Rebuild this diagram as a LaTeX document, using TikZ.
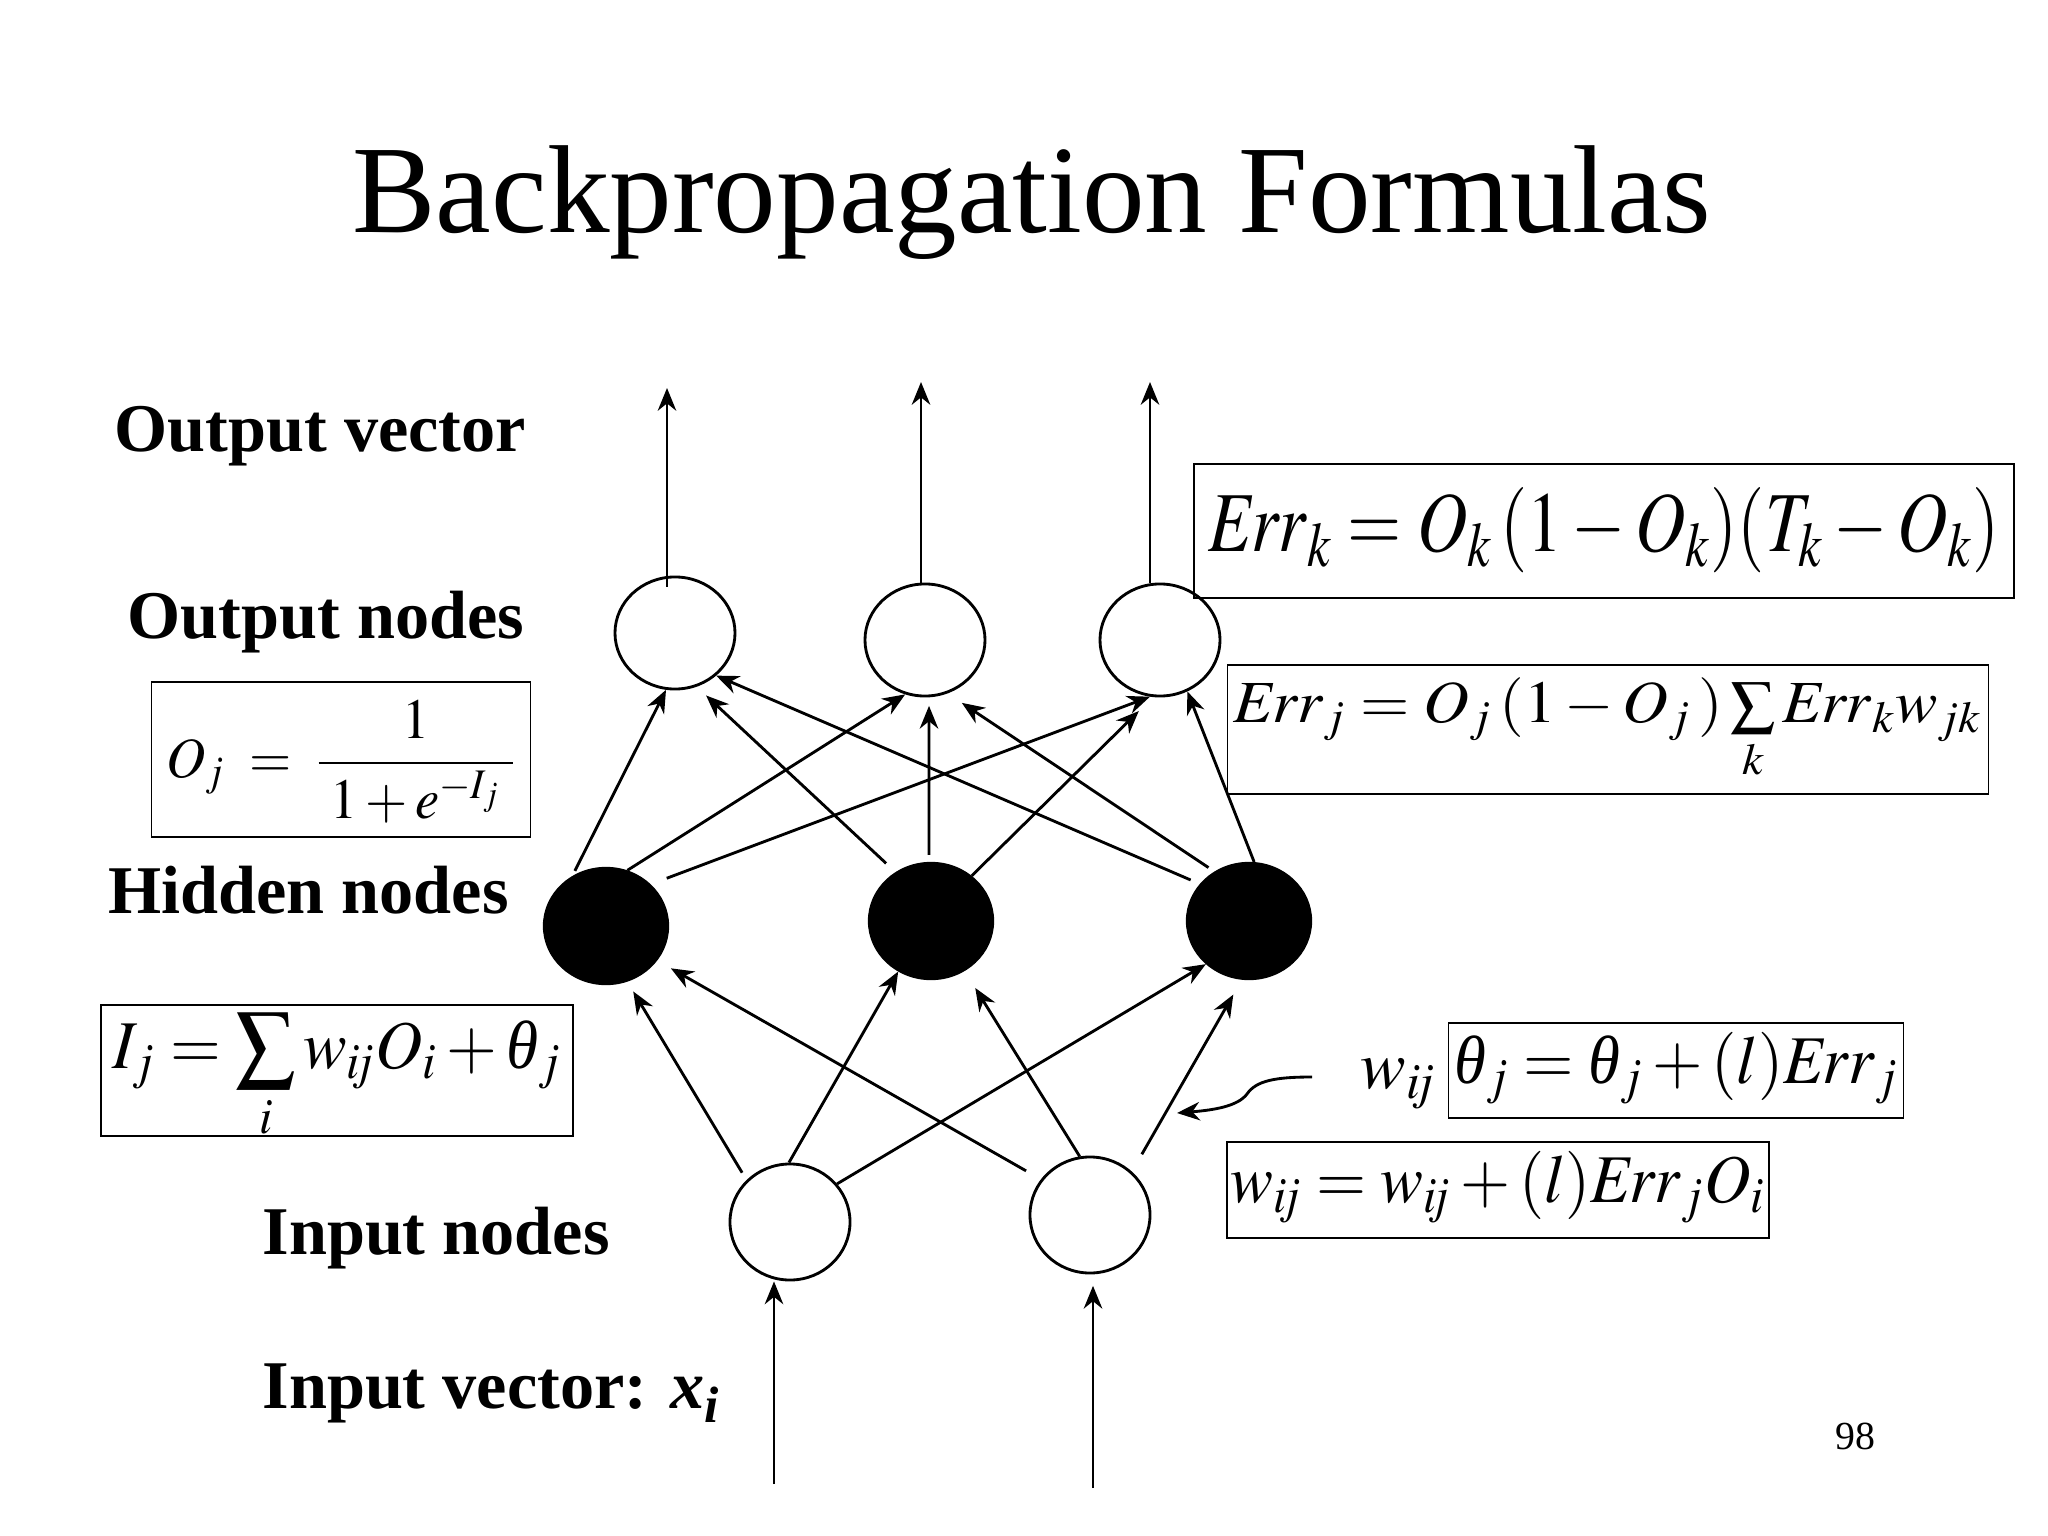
\documentclass[tikz,border=0pt]{standalone}
\usepackage{mathptmx}
\usepackage[no-math]{fontspec}
\setmainfont{Liberation Serif}
\usepackage{graphicx}
\usetikzlibrary{arrows.meta,shapes.geometric}
\newcommand\tht{\mbox{\itshape θ}}
\newcommand\ijs{{i\mkern-3mu j}}
\newcommand\bsum{\mathop{\vcenter{\hbox{\scalebox{1.3}{$\sum$}}}}\limits}
\begin{document}
\begin{tikzpicture}[x=0.3515625pt, y=-0.3515625pt,
  lbl/.style={anchor=base west, inner sep=0pt, font=\fontsize{24}{28}\selectfont\bfseries},
  onode/.style={ellipse, draw, line width=1pt, minimum width=42.2pt, minimum height=39.4pt, inner sep=0pt},
  hnode/.style={ellipse, draw, fill=black, line width=1pt, minimum width=43.4pt, minimum height=40.6pt, inner sep=0pt},
  inode/.style={ellipse, draw, line width=1pt, minimum width=42.2pt, minimum height=40.8pt, inner sep=0pt},
  conn/.style={line width=1pt, -{Stealth[length=8pt,width=6.5pt,inset=2.6pt]}},
  fbox/.style={draw, line width=0.6pt, anchor=base, inner xsep=0pt, inner ysep=0pt}
]
\useasboundingbox[fill=white] (0,0) rectangle (2048,1536);

% title
\node[anchor=base, inner sep=0pt, font=\fontsize{44}{52}\selectfont] (title) at (1032,233) {Backpropagation Formulas};

% left labels
\node[lbl] (lov) at (114,452) {Output vector};
\node[lbl] (lon) at (127,638) {Output nodes};
\node[lbl] (lhn) at (108,913) {Hidden nodes};
\node[lbl] (lin) at (262,1254) {Input nodes};
\node[lbl] (liv) at (262,1408) {Input vector: \textit{x}\raisebox{-5pt}{\fontsize{18}{18}\selectfont\textit{i}}};

% page number
\node[anchor=base west, inner sep=0pt, font=\fontsize{14}{16}\selectfont] (pg) at (1835,1449) {98};

% network nodes
\node[onode] (O1) at (675,633) {};
\node[onode] (O2) at (925,640) {};
\node[onode] (O3) at (1160,640) {};
\node[hnode] (H1) at (606,926) {};
\node[hnode] (H2) at (931,921) {};
\node[hnode] (H3) at (1249,921) {};
\node[inode] (I1) at (790,1222) {};
\node[inode] (I2) at (1090,1215) {};

% output vector arrows
\coordinate (ov1) at (667,388);
\coordinate (ov2) at (921,382);
\coordinate (ov3) at (1150,382);
\draw[conn] ([yshift=-4pt]ov1 |- O1.north) -- (ov1);
\draw[conn] (ov2 |- O2.north) -- (ov2);
\draw[conn] (ov3 |- O3.north) -- (ov3);

% input vector arrows
\coordinate (iv1) at (774,1484);
\coordinate (iv2) at (1093,1488);
\draw[conn] (iv1) -- (iv1 |- I1.south);
\draw[conn, shorten >=4pt] (iv2) -- (iv2 |- I2.south);

% hidden -> output
\draw[conn, shorten <=2pt] (H1.124) -- (O1.261);
\draw[conn] (H1.69) -- (O2.250);
\draw[conn, shorten <=6pt] (H1.43) -- (O3.260);
\draw[conn, shorten <=4.5pt, shorten >=4.5pt] (H2.126) -- (O1.292);
\draw[conn, shorten <=2.5pt, shorten >=3pt] (H2.92) -- (O2.274);
\draw[conn, shorten >=7pt] (H2.48) -- (O3.263);
\draw[conn, shorten <=3.5pt] (H3.143) -- (O1.314);
\draw[conn, shorten <=2.5pt, shorten >=6pt] (H3.125) -- (O2.293);
\draw[conn] (H3.85) -- (O3.298);

% input -> hidden
\draw[conn, shorten <=3pt, shorten >=4pt] (I1.136) -- (H1.291);
\draw[conn] (I1.91) -- (H2.237);
\draw[conn] (I1.39) -- (H3.225);
\draw[conn, shorten <=6pt, shorten >=5.5pt] (I2.144) -- (H1.326);
\draw[conn, shorten >=7pt] (I2.100) -- (H2.304);
\draw[conn, shorten <=7pt, shorten >=6pt] (I2.46) -- (H3.263);

% curly pointer arrow
\coordinate (cs) at (1312,1077);
\coordinate (ce) at (1177,1113);
\draw[conn] (cs) .. controls (1274,1077) and (1256,1081) .. (1247,1094)
  .. controls (1238,1106) and (1215,1110) .. (ce);

% formula boxes
\node[fbox, minimum width=288.3pt, text height=30.9pt, text depth=16.2pt] (errk) at (1604,552)
  {\fontsize{30}{36}\selectfont\resizebox{278pt}{\height}{$\mathit{Err}_k = O_k\,(1-O_k)(T_k-O_k)$}};
\node[fbox, minimum width=267.5pt, text height=20.4pt, text depth=25pt] (errj) at (1608,723)
  {\fontsize{21}{25}\selectfont\resizebox{263pt}{\height}{$\mathit{Err}_j = O_j\,(1-O_j\,)\sum\limits_k \mathit{Err}_k w_{jk}$}};
\node[fbox, minimum width=133.2pt, text height=33.4pt, text depth=21.1pt] (oj) at (341,777)
  {\fontsize{20}{24}\selectfont\resizebox{123pt}{\height}{$O_j \;=\; {\displaystyle\frac{1}{\;1+e^{-I_j}\;}}$}};
\node[fbox, minimum width=165.9pt, text height=22.1pt, text depth=23.9pt] (ij) at (337,1068)
  {\fontsize{24}{28}\selectfont\resizebox{158pt}{\height}{$I_j = \bsum_i w_{\ijs}O_i + \tht_j$}};
\node[anchor=base west, inner sep=0pt, font=\fontsize{24}{28}\selectfont] (wlbl) at (1360,1088) {$w_{\ijs}$};
\node[fbox, minimum width=160pt, text height=21.1pt, text depth=12.3pt] (th) at (1676,1083)
  {\fontsize{24}{28}\selectfont\resizebox{156pt}{\height}{$\tht_j = \tht_j + (l)\mathit{Err}_j$}};
\node[fbox, minimum width=190.5pt, text height=21.1pt, text depth=12.7pt] (wu) at (1498,1202)
  {\fontsize{24}{28}\selectfont\resizebox{188pt}{\height}{$w_{\ijs} = w_{\ijs} + (l)\mathit{Err}_j O_i$}};
\end{tikzpicture}
\end{document}
